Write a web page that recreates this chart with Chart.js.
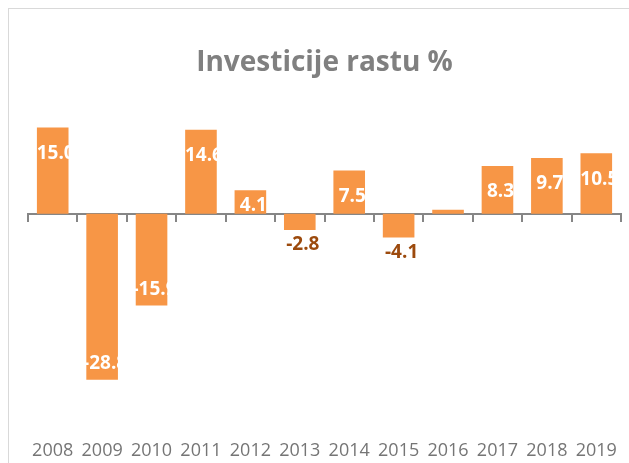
<!DOCTYPE html>
<html>
<head>
<meta charset="utf-8">
<script src="https://cdn.jsdelivr.net/npm/chart.js@4"></script>
<style>
    body { margin: 0; background: #fff; overflow: hidden; }
    #frame {
        position: absolute;
        left: 8px;
        top: 8px;
        width: 640px;
        height: 470px;
        border: 1px solid #d9d9d9;
        background: #fff;
    }
</style>
</head>
<body>
<div id="frame">
    <canvas id="investChart" width="640" height="470"></canvas>
</div>
<script>
const years = ['2008', '2009', '2010', '2011', '2012', '2013', '2014', '2015', '2016', '2017', '2018', '2019'];
const growth = [15.0, -28.8, -15.9, 14.6, 4.1, -2.8, 7.5, -4.1, 0.7, 8.3, 9.7, 10.5];
const titleText = 'Investicije rastu %';

const FONT = "'Open Sans', 'Noto Sans', sans-serif";

// Value labels drawn at the end of each bar, Excel style
const barLabels = {
    id: 'barLabels',
    afterDatasetsDraw(chart) {
        const ctx = chart.ctx;
        const meta = chart.getDatasetMeta(0);
        ctx.save();
        ctx.font = 'bold 19px ' + FONT;
        ctx.textAlign = 'center';
        ctx.textBaseline = 'middle';
        meta.data.forEach((bar, i) => {
            const v = growth[i];
            if (Math.abs(v) < 1) return;
            const h = Math.abs(bar.base - bar.y);
            let y;
            let color = '#ffffff';
            if (v > 0) {
                y = bar.y + Math.min(26, h * 0.65);
            } else if (v < -10) {
                y = bar.y - 16;
            } else {
                y = bar.y + 15;
                color = '#9c4a0d';
            }
            ctx.fillStyle = color;
            ctx.fillText(v.toFixed(1), bar.x + 3, y);
        });
        ctx.restore();
    }
};

new Chart(document.getElementById('investChart'), {
    type: 'bar',
    data: {
        labels: years,
        datasets: [{
            data: growth,
            backgroundColor: '#f79646',
            barPercentage: 0.78,
            categoryPercentage: 0.82,
            xAxisID: 'x'
        }]
    },
    options: {
        responsive: false,
        animation: false,
        layout: {
            padding: { left: 19, right: 28, top: 25, bottom: 0 }
        },
        plugins: {
            legend: { display: false },
            tooltip: { enabled: false },
            title: {
                display: true,
                text: titleText,
                color: '#808080',
                font: { family: FONT, size: 28, weight: 'bold' },
                padding: { top: 12, bottom: 19 }
            }
        },
        scales: {
            x: {
                position: 'bottom',
                grid: { display: false },
                border: { display: false },
                ticks: {
                    color: '#757575',
                    font: { family: FONT, size: 18 },
                    padding: 17,
                    maxRotation: 0,
                    autoSkip: false
                }
            },
            xZero: {
                type: 'category',
                position: { y: 0 },
                offset: true,
                grid: {
                    display: true,
                    drawOnChartArea: false,
                    drawTicks: true,
                    tickLength: 7,
                    color: '#868686',
                    lineWidth: 2
                },
                border: { display: true, color: '#868686', width: 2 },
                ticks: { display: false }
            },
            y: {
                display: false,
                min: -35,
                max: 20
            }
        }
    },
    plugins: [barLabels]
});
</script>
</body>
</html>
